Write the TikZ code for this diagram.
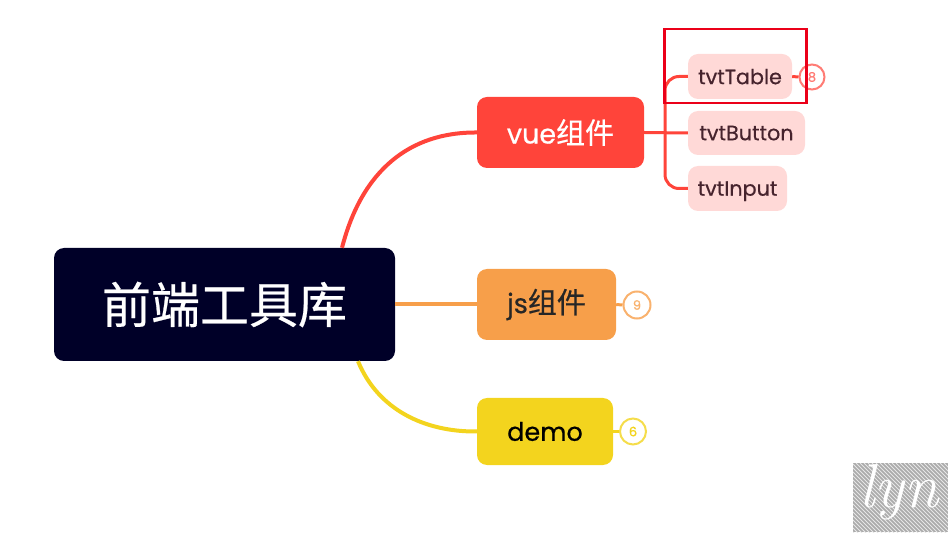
\documentclass[tikz,border=0pt]{standalone}
\usepackage{fontspec}
\newfontfamily\uiFont[FakeBold=0.6]{Poppins}
\newfontfamily\cjk[FakeBold=0.5]{Noto Sans CJK SC}
\usetikzlibrary{positioning,calc}
\definecolor{rootNavy}{RGB}{0, 0, 40}
\definecolor{vueRed}{RGB}{255, 68, 58}
\definecolor{jsOrange}{RGB}{247, 159, 74}
\definecolor{demoYellow}{RGB}{243, 212, 30}
\definecolor{leafPink}{RGB}{255, 217, 215}
\definecolor{leafText}{RGB}{70, 35, 45}
\definecolor{markGray}{RGB}{171, 171, 171}
\definecolor{boxRed}{RGB}{235, 0, 25}
\tikzset{
    topicBox/.style={rounded corners=10pt, inner sep=0pt, align=center},
    leafBox/.style={topicBox, fill=leafPink, text=leafText, minimum height=45pt, text depth=0pt,
        font=\uiFont\fontsize{20.7}{24}\selectfont},
    badge/.style={circle, draw, fill=white, line width=2pt, minimum size=25pt, inner sep=0pt,
        font=\uiFont\fontsize{13}{15}\selectfont},
    branch/.style={line width=4pt},
    twig/.style={line width=3pt, vueRed}
}
\begin{document}
\begin{tikzpicture}[x=1pt, y=-1pt]
    \useasboundingbox (0,0) rectangle (948,534);

    % main topics
    \node[topicBox, fill=rootNavy, text=white, minimum width=341pt, minimum height=113pt,
        font=\fontsize{49}{55}\selectfont] (root) at (224.5,304.5) {\cjk 前端工具库};
    \node[topicBox, fill=vueRed, text=white, minimum width=167pt, minimum height=71pt,
        font=\uiFont\fontsize{27}{32}\selectfont] (vue) at (560.5,132.5) {vue{\cjk\fontsize{29}{32}\selectfont 组件}};
    \node[topicBox, fill=jsOrange, text=black!85, minimum width=139pt, minimum height=71pt,
        font=\uiFont\fontsize{27}{32}\selectfont] (js) at (546.5,304.5) {js{\cjk\fontsize{29}{32}\selectfont 组件}};
    \node[topicBox, fill=demoYellow, text=black, minimum width=136pt, minimum height=67pt,
        font=\uiFont\fontsize{25.5}{32}\selectfont] (demo) at (545,431.5) {demo};

    % leaves
    \node[leafBox, minimum width=104pt] (tvtTable) at (740,76.5) {tvtTable};
    \node[leafBox, minimum width=117pt, minimum height=44pt] (tvtButton) at (746.5,133) {tvtButton};
    \node[leafBox, minimum width=99pt] (tvtInput) at (737.5,188.5) {tvtInput};

    % counters
    \node[badge, draw=vueRed!70, text=vueRed!70] (tableCount) at (812,77) {8};
    \node[badge, draw=jsOrange!80, text=jsOrange!80, minimum size=27pt] (jsCount) at (637,305) {9};
    \node[badge, draw=demoYellow!80, text=demoYellow, minimum size=26pt] (demoCount) at (633,431.5) {6};

    % branches
    \draw[branch, vueRed] ([xshift=117.5pt]root.north) .. controls (362,170) and (410,132) .. (vue.west);
    \draw[branch, jsOrange] (root.east) -- (js.west);
    \draw[branch, demoYellow] ([xshift=133.5pt]root.south) .. controls (378,410) and (425,432) .. (demo.west);

    \coordinate (hub) at (665,133);
    \draw[twig] (vue.east) -- (tvtButton.west);
    \draw[twig, rounded corners=14pt] (tvtTable.west) -| (hub) |- (tvtInput.west);
    \draw[twig] (tvtTable.east) -- (tableCount.west);
    \draw[line width=3pt, jsOrange] (js.east) -- (jsCount.west);
    \draw[line width=3pt, demoYellow] (demo.east) -- (demoCount.west);

    % highlight box
    \draw[boxRed, line width=2.6pt] (664.3,29) rectangle (806.7,103);

    % corner mark
    \begin{scope}
        \clip (853,463) rectangle (948,532);
        \fill[markGray] (853,463) rectangle (948,532);
        \foreach \i in {0,4,...,170}
            \draw[white!70!markGray, line width=0.8pt] (780+\i,463) -- ++(72,72);
    \end{scope}
    \node[text=white, inner sep=0pt, font=\itshape\fontsize{62}{62}\selectfont] (lynMark) at (899,492) {lyn};
\end{tikzpicture}
\end{document}
